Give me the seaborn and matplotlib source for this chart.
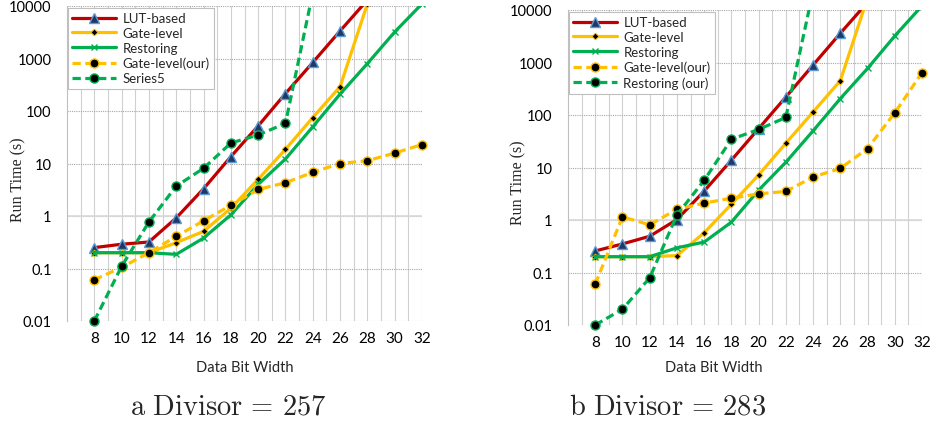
import numpy as np
import pandas as pd
import matplotlib
matplotlib.use("Agg")
import matplotlib.pyplot as plt
from matplotlib.transforms import Bbox, TransformedBbox
import seaborn as sns

# x positions shared by both panels
bits = [8, 10, 12, 14, 16, 18, 20, 22, 24, 26, 28, 30, 32]
nan = np.nan

# (a) Divisor = 257
a_lut = [0.25, 0.29, 0.32, 0.92, 3.3, 13.5, 52, 215, 840, 3350, 13000, nan, nan]
a_gate = [0.2, 0.2, 0.2, 0.31, 0.51, 1.4, 5.0, 18.6, 75, 290, 11000, nan, nan]
a_rest = [0.2, 0.2, 0.2, 0.186, 0.38, 1.05, 4.0, 12.2, 50, 210, 800, 3200, 11000]
a_gate_our = [0.061, 0.105, 0.2, 0.41, 0.81, 1.6, 3.2, 4.3, 6.8, 10, 11.3, 15.8, 23]
a_rest_our = [0.01, 0.11, 0.77, 3.7, 8.1, 24.5, 35, 58, 18000, nan, nan, nan, nan]

# (b) Divisor = 283
b_lut = [0.257, 0.35, 0.49, 1.02, 3.55, 13.8, 55, 220, 895, 3600, 14000, nan, nan]
b_gate = [0.2, 0.2, 0.2, 0.21, 0.57, 2.0, 7.2, 29, 114, 450, 17000, nan, nan]
b_rest = [0.2, 0.2, 0.2, 0.295, 0.38, 0.91, 3.7, 12.6, 50, 205, 770, 3200, 12000]
b_gate_our = [0.06, 1.15, 0.81, 1.6, 2.1, 2.6, 3.15, 3.5, 6.6, 9.6, 23, 110, 640]
b_rest_our = [0.01, 0.02, 0.079, 1.25, 5.7, 34.5, 53, 90, 23000, nan, nan, nan, nan]

y_ticks = [0.01, 0.1, 1, 10, 100, 1000, 10000]
y_labels = ["0.01", "0.1", "1", "10", "100", "1000", "10000"]

RED = "#C00000"
YELLOW = "#FFC000"
GREEN = "#00B050"

sns.set_style("white")
plt.rcParams["font.family"] = ["Lato", "DejaVu Sans"]
plt.rcParams["mathtext.fontset"] = "cm"

fig = plt.figure(figsize=(9.35, 4.27), dpi=100)


def draw_panel(ax, lut, gate, rest, gate_our, rest_our, last_label):
    dash = (0, (2.6, 1.4))
    styles = [
        ("LUT-based", lut, dict(color=RED, marker="^", markersize=7,
                                markerfacecolor="#1F3864", markeredgecolor="#5B9BD5",
                                markeredgewidth=1.0, linestyle="-")),
        ("Gate-level", gate, dict(color=YELLOW, marker="D", markersize=3.5,
                                  markerfacecolor="black", markeredgecolor=YELLOW,
                                  markeredgewidth=0.6, linestyle="-")),
        ("Restoring", rest, dict(color=GREEN, marker="x", markersize=4,
                                 markeredgecolor=GREEN, markeredgewidth=1.0,
                                 linestyle="-")),
        ("Gate-level(our)", gate_our, dict(color=YELLOW, marker="o", markersize=6.5,
                                           markerfacecolor="black", markeredgecolor=YELLOW,
                                           markeredgewidth=1.0, linestyle=dash)),
        (last_label, rest_our, dict(color=GREEN, marker="o", markersize=6.5,
                                    markerfacecolor="black", markeredgecolor=GREEN,
                                    markeredgewidth=1.0, linestyle=dash)),
    ]
    for label, vals, kw in styles:
        df = pd.DataFrame({"bits": bits, "time": vals}).dropna()
        sns.lineplot(data=df, x="bits", y="time", ax=ax, label=label,
                     linewidth=2.3, zorder=3, **kw)

    # clip only at the top so edge markers stay whole
    clip = TransformedBbox(Bbox([[-0.1, -0.1], [1.1, 1.0]]), ax.transAxes)
    for ln in ax.lines:
        ln.set_clip_box(clip)

    ax.set_yscale("log")
    ax.set_xlim(6, 32)
    ax.set_ylim(0.01, 10000)

    # gridlines: light solid verticals at every integer, dotted decades
    for xv in range(7, 33):
        ax.axvline(xv, color="#D0D0D0", linewidth=0.8, zorder=1)
    for yv in y_ticks:
        ax.axhline(yv, color="#A6A6A6", linewidth=0.8, linestyle=(0, (1, 1)), zorder=1)
    ax.axhline(1, color="#D9D9D9", linewidth=1.2, zorder=1.5)

    for s in ["top", "right", "bottom"]:
        ax.spines[s].set_visible(False)
    ax.spines["left"].set_color("#BFBFBF")
    ax.spines["left"].set_linewidth(0.8)

    ax.set_yticks(y_ticks)
    ax.set_yticklabels(y_labels)
    ax.minorticks_off()
    ax.set_xticks(bits)
    ax.set_xticklabels([str(b) for b in bits])
    ax.tick_params(axis="y", length=0, pad=11, labelsize=10.5, colors="black")
    ax.tick_params(axis="x", length=0, pad=7, labelsize=11, colors="black")
    ax.set_xlabel("")
    ax.set_ylabel("")

    leg = ax.legend(loc="upper left", bbox_to_anchor=(0.002, 0.995), fontsize=9.5,
                    frameon=True, fancybox=False, edgecolor="#BFBFBF",
                    handlelength=3.3, labelspacing=0.22, borderpad=0.35,
                    handletextpad=0.5, borderaxespad=0.0)
    leg.get_frame().set_linewidth(0.8)
    leg.get_frame().set_alpha(1)
    leg.set_zorder(5)


ax1 = fig.add_axes([67 / 935, 1 - 322 / 427, 355 / 935, 315 / 427])
draw_panel(ax1, a_lut, a_gate, a_rest, a_gate_our, a_rest_our, "Series5")

ax2 = fig.add_axes([568 / 935, 1 - 326 / 427, 354 / 935, 315 / 427])
draw_panel(ax2, b_lut, b_gate, b_rest, b_gate_our, b_rest_our, "Restoring (our)")

# axis titles
serif = ["Liberation Serif", "DejaVu Serif"]
fig.text(18 / 935, 1 - 180 / 427, "Run Time (s)", rotation=90, ha="center",
         va="center", fontsize=11.5, family=serif)
fig.text(518 / 935, 1 - 183 / 427, "Run Time (s)", rotation=90, ha="center",
         va="center", fontsize=11.5, family=serif)
fig.text(245 / 935, 1 - 368 / 427, "Data Bit Width", ha="center", va="center",
         fontsize=10.5)
fig.text(714 / 935, 1 - 368 / 427, "Data Bit Width", ha="center", va="center",
         fontsize=10.5)

# sub-captions
fig.text(228 / 935, 1 - 407 / 427, r"$\mathrm{a\ Divisor}\,=\,257$", ha="center",
         va="center", fontsize=20.5)
fig.text(668 / 935, 1 - 407 / 427, r"$\mathrm{b\ Divisor}\,=\,283$", ha="center",
         va="center", fontsize=20.5)

fig.savefig("out.png", dpi=100)
